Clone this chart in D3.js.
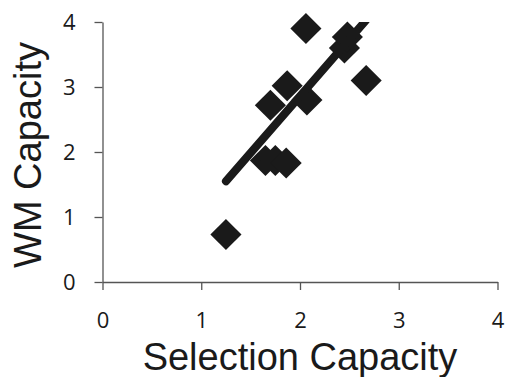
<!DOCTYPE html>
<html>
	<head>
		<script src="https://d3js.org/d3.v7.min.js"></script>
		<style>
			body { margin: 0; background: #fff; }
		</style>
	</head>
	<body>
		<script>
			// scatter values
			var selection = [1.25, 1.65, 1.75, 1.86, 1.70, 1.87, 2.07, 2.06, 2.45, 2.48, 2.67];
			var wm        = [0.73, 1.87, 1.87, 1.83, 2.72, 3.02, 2.80, 3.90, 3.60, 3.77, 3.10];
			// trend line end points
			var trend_x = [1.25, 2.67];
			var trend_y = [1.55, 4.03];
			var x_ticks = [0, 1, 2, 3, 4];
			var y_ticks = [0, 1, 2, 3, 4];

			var width = 506;
			var height = 377;
			var m_left = 102.5, m_right = 497.5, m_top = 22, m_bottom = 282;

			var svg = d3.select('body').append('svg')
				.attr('width', width)
				.attr('height', height);

			var x = d3.scaleLinear().domain([0, 4]).range([m_left, m_right]);
			var y = d3.scaleLinear().domain([0, 4]).range([m_bottom, m_top]);

			var xAxis = svg.append('g')
				.attr('transform', 'translate(0,' + m_bottom + ')')
				.call(d3.axisBottom(x).tickValues(x_ticks).tickFormat(d3.format('d'))
					.tickSize(8).tickSizeOuter(0).tickPadding(29));
			var yAxis = svg.append('g')
				.attr('transform', 'translate(' + m_left + ',0)')
				.call(d3.axisLeft(y).tickValues(y_ticks).tickFormat(d3.format('d'))
					.tickSize(8).tickSizeOuter(0).tickPadding(19));

			svg.selectAll('.domain, .tick line')
				.attr('stroke', '#555')
				.attr('stroke-width', 1.3);
			svg.selectAll('.tick text')
				.attr('fill', '#1a1a1a')
				.style('font-family', 'Open Sans, sans-serif')
				.style('font-size', '22px');
			xAxis.selectAll('.tick text').attr('dy', '0.4em');

			// diamonds
			var diamond = d3.symbol().type(d3.symbolSquare).size(484);
			var pts = d3.range(selection.length);
			svg.append('g').selectAll('path')
				.data(pts)
				.enter()
				.append('path')
				.attr('d', diamond)
				.attr('transform', function (i) {
					return 'translate(' + x(selection[i]) + ',' + y(wm[i]) + ') rotate(45)';
				})
				.attr('fill', '#1a1a1a');

			// trend line, clipped at the top of the plot
			svg.append('clipPath').attr('id', 'plotclip')
				.append('rect')
				.attr('x', 0).attr('y', m_top)
				.attr('width', width).attr('height', height);

			svg.append('path')
				.datum(d3.range(trend_x.length))
				.attr('clip-path', 'url(#plotclip)')
				.attr('d', d3.line()
					.x(function (i) { return x(trend_x[i]); })
					.y(function (i) { return y(trend_y[i]); }))
				.attr('fill', 'none')
				.attr('stroke', '#1a1a1a')
				.attr('stroke-width', 8)
				.attr('stroke-linecap', 'round');

			// axis titles
			svg.append('text')
				.attr('x', (m_left + m_right) / 2)
				.attr('y', 370)
				.attr('text-anchor', 'middle')
				.attr('fill', '#1a1a1a')
				.style('font-family', 'Liberation Sans, Arial, sans-serif')
				.style('font-size', '38px')
				.text('Selection Capacity');

			svg.append('text')
				.attr('transform', 'translate(41,155) rotate(-90)')
				.attr('text-anchor', 'middle')
				.attr('fill', '#1a1a1a')
				.style('font-family', 'Liberation Sans, Arial, sans-serif')
				.style('font-size', '38px')
				.text('WM Capacity');
		</script>
	</body>
</html>
